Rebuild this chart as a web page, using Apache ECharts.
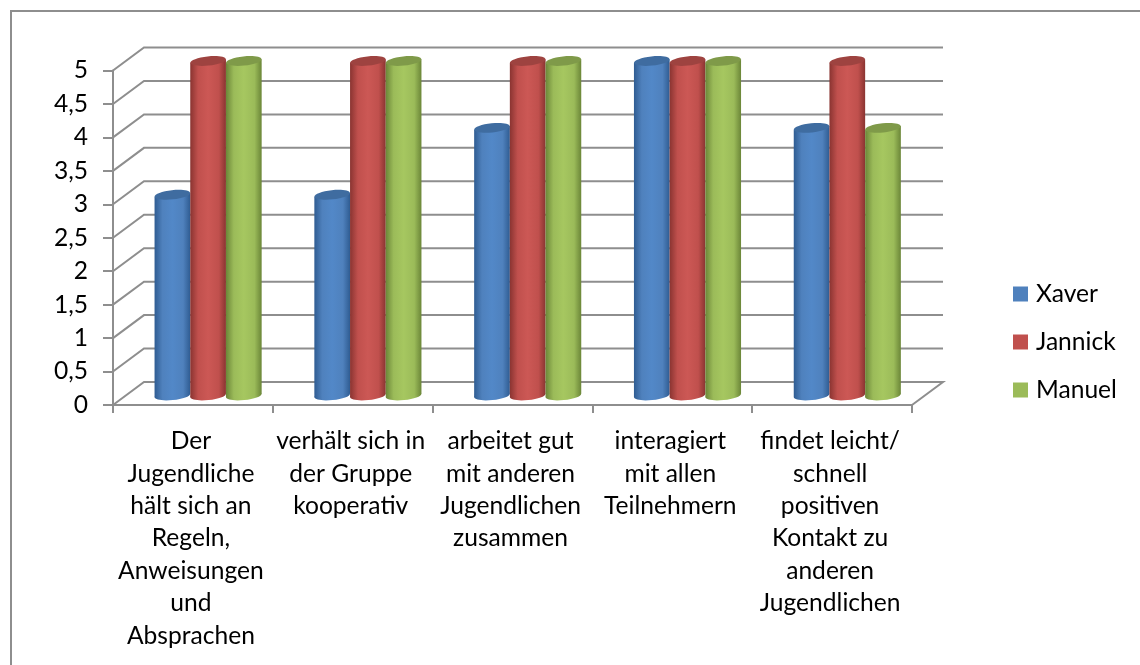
<!DOCTYPE html>
<html><head><meta charset="utf-8">
<style>html,body{margin:0;padding:0;background:#fff}#c{width:1140px;height:665px}</style>
<script src="https://cdn.jsdelivr.net/npm/echarts@6/dist/echarts.min.js"></script>
</head><body><div id="c"></div>
<script>
const categories = [
  "Der\nJugendliche\nhält sich an\nRegeln,\nAnweisungen\nund\nAbsprachen",
  "verhält sich in\nder Gruppe\nkooperativ",
  "arbeitet gut\nmit anderen\nJugendlichen\nzusammen",
  "interagiert\nmit allen\nTeilnehmern",
  "findet leicht/\nschnell\npositiven\nKontakt zu\nanderen\nJugendlichen"
];
const xaver = [3, 3, 4, 5, 4];
const jannick = [5, 5, 5, 5, 5];
const manuel = [5, 5, 5, 5, 4];
const valueTicks = [0, 0.5, 1, 1.5, 2, 2.5, 3, 3.5, 4, 4.5, 5];
const seriesNames = ["Xaver", "Jannick", "Manuel"];
const seriesValues = [xaver, jannick, manuel];
const palette = [
  {base:"#4F81BD", dark:"#2F5C92", light:"#5288C8", top:"#3F6CA0"},
  {base:"#C0504D", dark:"#8A3431", light:"#CC5855", top:"#9E4340"},
  {base:"#9BBB59", dark:"#6B8638", light:"#A6C760", top:"#7F9A49"}
];
const FONT = 'Lato,"Open Sans",sans-serif';
const AXIS = "#8E8E8E";
const DX = 31, DY = -23;           // depth of the back wall
const BAR_DX = 15.2, BAR_DY = -9.5; // bars stand half way in the depth
const BAR_RATIO = 0.2234, RY = 4.6, TILT = 0.105;

function cylinder(params, api) {
  const s = params.seriesIndex;
  const c = palette[s];
  const cat = api.value(0), val = api.value(1);
  const band = api.size([1, 0])[0];
  const w = band * BAR_RATIO;
  const top = api.coord([cat, val]);
  const bot = api.coord([cat, 0]);
  const cx = top[0] + BAR_DX + (s - 1) * w;
  const yT = top[1] + BAR_DY, yB = bot[1] + BAR_DY;
  const t = w / 2 * Math.sin(TILT);
  const grad = new echarts.graphic.LinearGradient(0, 0, 1, 0, [
    {offset: 0, color: c.dark},
    {offset: 0.22, color: c.base},
    {offset: 0.5, color: c.light},
    {offset: 0.8, color: c.base},
    {offset: 1, color: c.dark}
  ]);
  return {type: "group", children: [
    {type: "ellipse", shape: {cx: cx, cy: yB, rx: w / 2, ry: RY},
     rotation: TILT, originX: cx, originY: yB, style: {fill: grad}},
    {type: "polygon", shape: {points: [
      [cx - w / 2, yT + t], [cx + w / 2, yT - t], [cx + w / 2, yB - t], [cx - w / 2, yB + t]
    ]}, style: {fill: grad}},
    {type: "ellipse", shape: {cx: cx, cy: yT, rx: w / 2, ry: RY},
     rotation: TILT, originX: cx, originY: yT, style: {fill: c.top}}
  ]};
}
function wall(params, api) {
  const v = api.value(1);
  const band = api.size([1, 0])[0];
  const p = api.coord([0, v]);
  const x0 = p[0] - band / 2, y = p[1];
  const x1 = x0 + band * categories.length;
  const pts = [[x0, y], [x0 + DX, y + DY], [x1 + DX, y + DY]];
  if (v === valueTicks[0]) pts.push([x1, y]);
  return {type: "polyline", shape: {points: pts},
    style: {fill: null, stroke: AXIS, lineWidth: 2}};
}
const chart = echarts.init(document.getElementById("c"), null, {renderer: "canvas"});
chart.setOption({
  animation: false,
  backgroundColor: "#fff",
  textStyle: {fontFamily: FONT},
  grid: {left: 113, right: 228, top: 70.5, bottom: 260, containLabel: false},
  graphic: [{type: "polyline", silent: true,
    shape: {points: [[11, 665], [11, 11], [1140, 11]]},
    style: {fill: null, stroke: "#8E8E8E", lineWidth: 2}}],
  legend: {
    orient: "vertical", left: 1008, top: 275, itemWidth: 15, itemHeight: 15, itemGap: 20,
    icon: "rect", data: seriesNames, selectedMode: false,
    textStyle: {fontFamily: FONT, fontSize: 24.6, lineHeight: 28, color: "#000", padding: [0, 0, 0, 3]}
  },
  xAxis: {
    type: "category", data: categories, boundaryGap: true,
    axisLine: {show: true, lineStyle: {color: AXIS, width: 2}},
    axisTick: {show: true, alignWithLabel: false, length: 8, lineStyle: {color: AXIS, width: 2}},
    axisLabel: {interval: 0, margin: 20, fontSize: 24.6, lineHeight: 32.4, color: "#000", fontFamily: FONT,
      hideOverlap: false, padding: [0, 4, 0, 0]}
  },
  yAxis: {
    type: "value", min: 0, max: 5, interval: 0.5,
    axisLine: {show: true, lineStyle: {color: AXIS, width: 2}},
    axisTick: {show: true, length: 10, lineStyle: {color: AXIS, width: 2}},
    splitLine: {show: false},
    axisLabel: {margin: 25, fontSize: 24.6, color: "#000", fontFamily: FONT, padding: [4, 0, 0, 0],
      formatter: v => String(v).replace(".", ",")}
  },
  series: seriesNames.map((name, s) => ({
    type: "custom", name: name, renderItem: cylinder, z: 5, silent: true,
    itemStyle: {color: palette[s].base},
    encode: {x: 0, y: 1},
    data: seriesValues[s].map((v, i) => [i, v])
  })).concat([{
    type: "custom", name: "wall", renderItem: wall, z: 1, silent: true,
    encode: {x: 0, y: 1},
    data: valueTicks.map(v => [0, v])
  }])
});
</script></body></html>
